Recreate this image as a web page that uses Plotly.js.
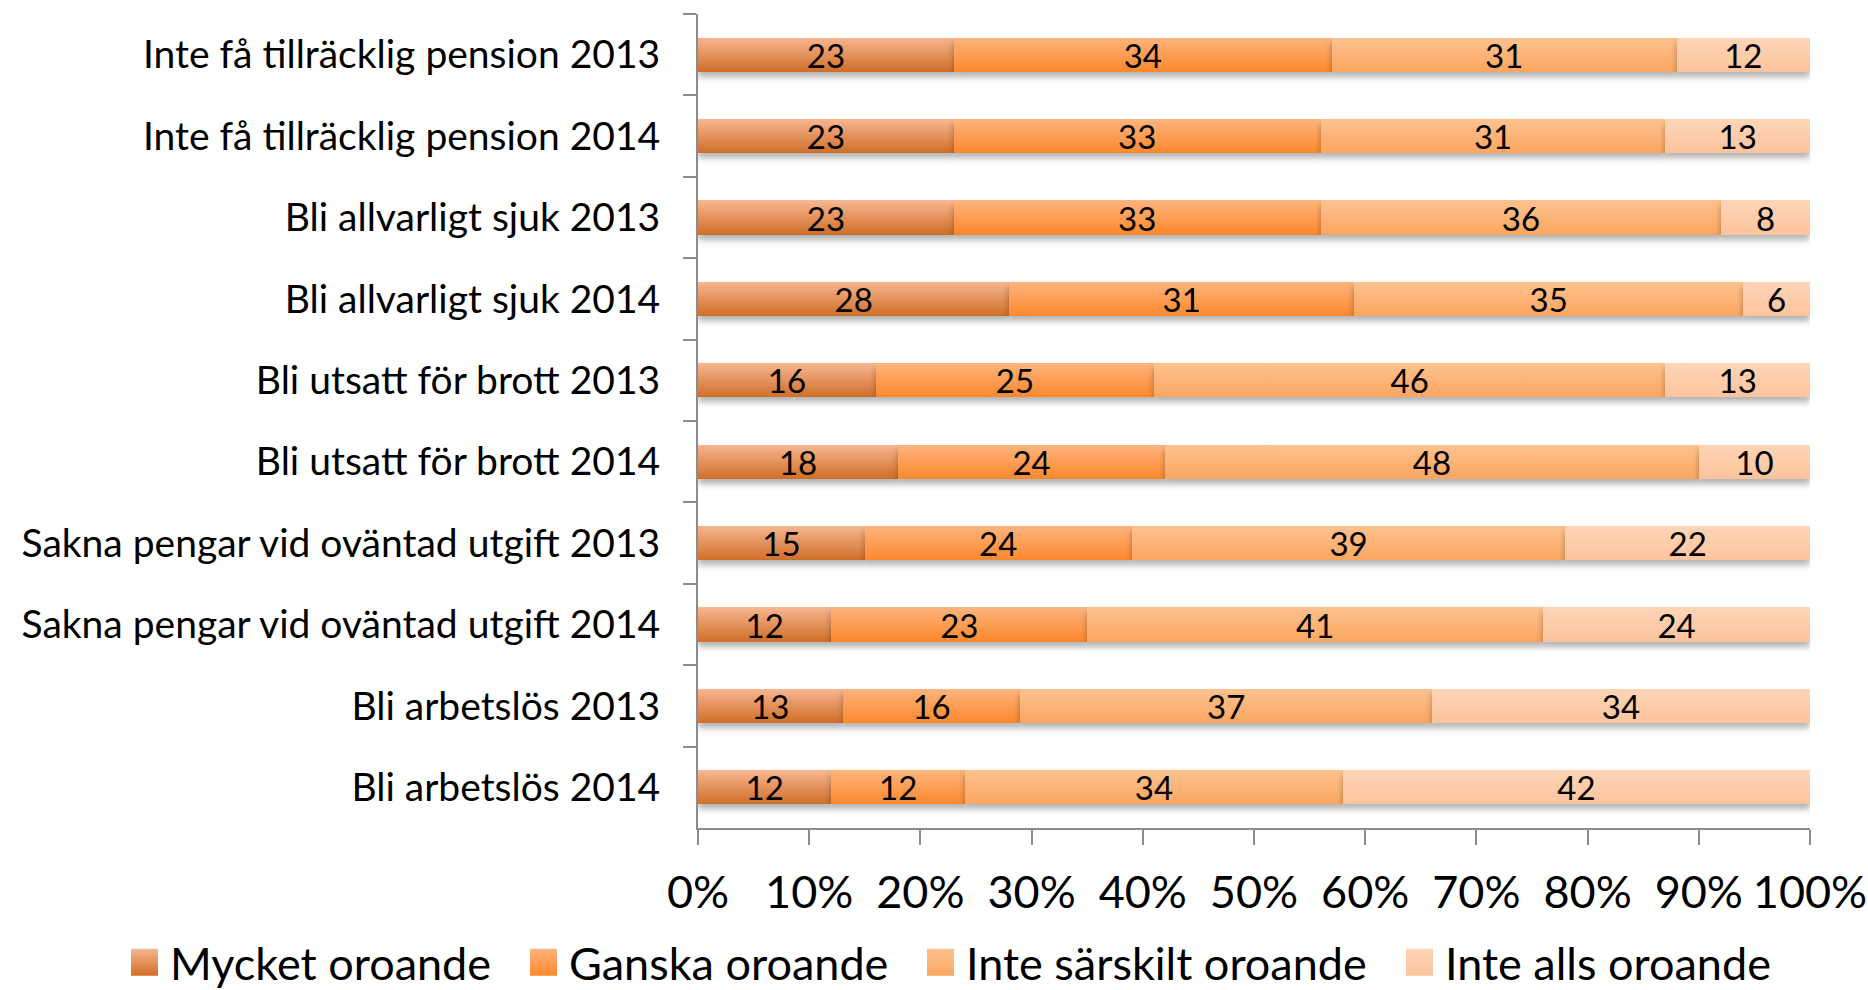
<!DOCTYPE html>
<html>
<head>
<meta charset="utf-8">
<script src="https://cdn.plot.ly/plotly-3.0.1.min.js"></script>
<style>
html, body { margin: 0; padding: 0; background: #ffffff; }
#chart { width: 1868px; height: 990px; }
.barlayer .point path { filter: drop-shadow(0px 5px 3px rgba(0,0,0,0.30)); }
</style>
</head>
<body>
<div id="chart"></div>
<script>
const categories = [
  "Inte få tillräcklig pension 2013",
  "Inte få tillräcklig pension 2014",
  "Bli allvarligt sjuk 2013",
  "Bli allvarligt sjuk 2014",
  "Bli utsatt för brott 2013",
  "Bli utsatt för brott 2014",
  "Sakna pengar vid oväntad utgift 2013",
  "Sakna pengar vid oväntad utgift 2014",
  "Bli arbetslös 2013",
  "Bli arbetslös 2014"
];
const seriesNames = ["Mycket oroande", "Ganska oroande", "Inte särskilt oroande", "Inte alls oroande"];
const mycket      = [23, 23, 23, 28, 16, 18, 15, 12, 13, 12];
const ganska      = [34, 33, 33, 31, 25, 24, 24, 23, 16, 12];
const inteSarskilt= [31, 31, 36, 35, 46, 48, 39, 41, 37, 34];
const inteAlls    = [12, 13, 8, 6, 13, 10, 22, 24, 34, 42];
const xTickVals   = [0, 10, 20, 30, 40, 50, 60, 70, 80, 90, 100];
const xTickText   = ["0%", "10%", "20%", "30%", "40%", "50%", "60%", "70%", "80%", "90%", "100%"];

const colorsMid = ["#E38A55", "#FD9C4F", "#FDB579", "#FDCCAA"];
const colorsTop = ["#F8B691", "#FDB47E", "#FEC28F", "#FED5B6"];
const colorsBot = ["#CF6E28", "#FC882C", "#FBA660", "#FCC49E"];

const values = [mycket, ganska, inteSarskilt, inteAlls];
const FONT = "Lato, 'Open Sans', sans-serif";

const data = values.map((v, i) => ({
  type: "bar",
  orientation: "h",
  name: seriesNames[i],
  y: categories,
  x: v,
  text: v.map(String),
  textposition: "inside",
  insidetextanchor: "middle",
  textangle: 0,
  constraintext: "none",
  textfont: { family: FONT, size: 33, color: "#000000" },
  marker: { color: colorsMid[i], line: { width: 0 } },
  hoverinfo: "x+y+name"
}));

const layout = {
  width: 1868,
  height: 990,
  margin: { l: 698, r: 58, t: 14, b: 162, pad: 0, autoexpand: false },
  paper_bgcolor: "#ffffff",
  plot_bgcolor: "#ffffff",
  barmode: "stack",
  bargap: 0.58,
  font: { family: FONT, color: "#000000" },
  showlegend: true,
  legend: {
    orientation: "h",
    x: -0.51, xanchor: "left",
    y: -0.121, yanchor: "top",
    font: { family: FONT, size: 45, color: "#000000" },
    itemclick: false, itemdoubleclick: false,
    tracegroupgap: 0,
    traceorder: "normal"
  },
  xaxis: {
    range: [0, 100],
    tickvals: xTickVals,
    ticktext: xTickText,
    showgrid: false,
    zeroline: false,
    showline: true,
    linecolor: "#8C8C8C",
    linewidth: 2,
    ticks: "outside",
    ticklen: 15,
    tickwidth: 2,
    tickcolor: "#8C8C8C",
    tickfont: { family: FONT, size: 45, color: "#000000" },
    ticklabelstandoff: 9,
    automargin: false,
    fixedrange: true
  },
  yaxis: {
    type: "category",
    autorange: "reversed",
    showgrid: false,
    zeroline: false,
    showline: true,
    linecolor: "#8C8C8C",
    linewidth: 2,
    ticks: "outside",
    tickson: "boundaries",
    ticklen: 13,
    tickwidth: 2,
    tickcolor: "#8C8C8C",
    tickfont: { family: FONT, size: 39, color: "#000000" },
    ticklabelstandoff: 28,
    automargin: false,
    fixedrange: true
  }
};

// reference legend text start positions (px from left of page)
const legendTextStart = [170, 569, 966, 1445];

Plotly.newPlot("chart", data, layout, { displayModeBar: false, staticPlot: true }).then(gd => {
  const ns = "http://www.w3.org/2000/svg";
  const svg = gd.querySelector(".main-svg");
  let defs = svg.querySelector("defs");
  if (!defs) { defs = document.createElementNS(ns, "defs"); svg.insertBefore(defs, svg.firstChild); }
  seriesNames.forEach((n, i) => {
    const lg = document.createElementNS(ns, "linearGradient");
    lg.setAttribute("id", "barGrad" + i);
    lg.setAttribute("x1", "0"); lg.setAttribute("y1", "0");
    lg.setAttribute("x2", "0"); lg.setAttribute("y2", "1");
    [[0, colorsTop[i]], [1, colorsBot[i]]].forEach(([o, c]) => {
      const s = document.createElementNS(ns, "stop");
      s.setAttribute("offset", String(o));
      s.setAttribute("stop-color", c);
      lg.appendChild(s);
    });
    defs.appendChild(lg);
  });
  gd.querySelectorAll(".barlayer .trace").forEach(t => {
    const idx = t.__data__ && t.__data__[0] && t.__data__[0].trace ? t.__data__[0].trace.index : null;
    if (idx === null) return;
    t.querySelectorAll(".point path").forEach(p => { p.style.fill = "url(#barGrad" + idx + ")"; });
  });
  gd.querySelectorAll(".legend [clip-path]").forEach(el => el.removeAttribute("clip-path"));
  gd.querySelectorAll(".legend .traces").forEach(t => {
    const d = t.__data__;
    const idx = d && d[0] && d[0].trace ? d[0].trace.index : null;
    if (idx === null) return;
    t.querySelectorAll(".legendpoints path").forEach(p => {
      p.setAttribute("d", "M8,13.5H-19V-13.5H8Z");
      p.style.fill = "url(#barGrad" + idx + ")";
      p.style.stroke = "none";
    });
    const txt = t.querySelector("text.legendtext");
    const tr = t.getAttribute("transform") || "";
    const m = tr.match(/translate\(\s*([-\d.]+)[ ,]+([-\d.]+)\s*\)/);
    if (txt && m) {
      const left = txt.getBoundingClientRect().left;
      const dx = legendTextStart[idx] - left;
      t.setAttribute("transform", "translate(" + (parseFloat(m[1]) + dx) + "," + m[2] + ")");
    }
  });
});
</script>
</body>
</html>
